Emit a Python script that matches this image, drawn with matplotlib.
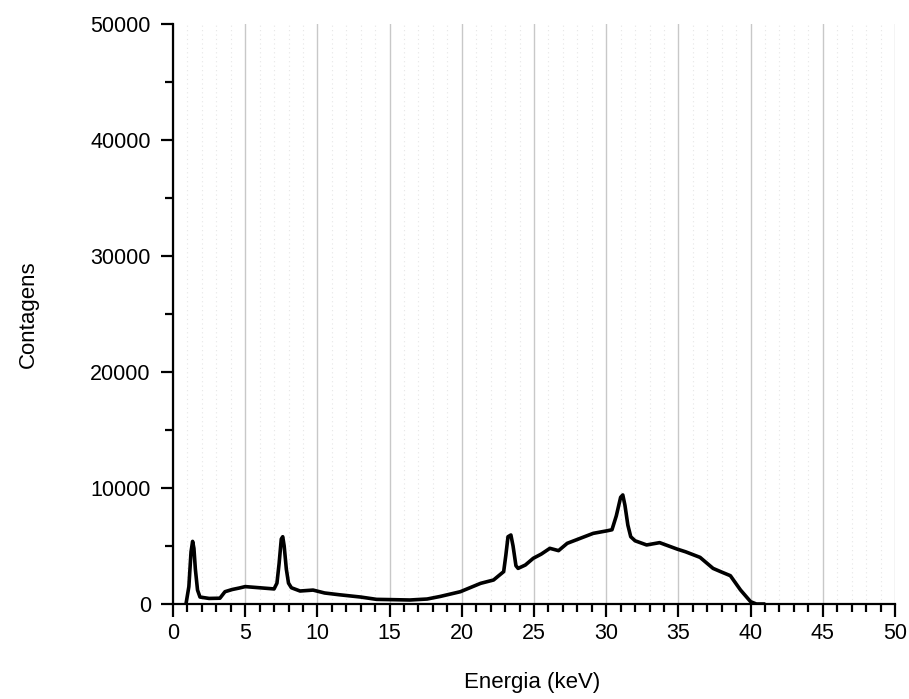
import matplotlib
matplotlib.use("Agg")
import matplotlib.pyplot as plt
import matplotlib.ticker as ticker

plt.rcParams["font.family"] = ["Liberation Sans", "DejaVu Sans"]

# spectrum
energia = [0.9, 1.1, 1.25, 1.36, 1.45, 1.55, 1.7, 1.87, 2.5, 3.25, 3.6, 4.1,
           4.6, 5.0, 6.0, 7.0, 7.2, 7.35, 7.5, 7.6, 7.7, 7.85, 8.0, 8.2, 8.8,
           9.7, 10.5, 11.5, 13.0, 14.1, 15.0, 16.4, 17.6, 18.5, 19.9, 21.3,
           22.2, 22.9, 23.05, 23.2, 23.4, 23.55, 23.75, 23.9, 24.4, 24.95,
           25.5, 26.1, 26.7, 27.3, 28.2, 29.1, 30.1, 30.4, 30.7, 31.0, 31.15,
           31.3, 31.5, 31.7, 32.0, 32.8, 33.7, 34.9, 35.5, 36.5, 37.4, 38.0,
           38.6, 39.3, 40.0, 40.4, 40.9]
contagens = [0, 1500, 4500, 5400, 4800, 3000, 1200, 600, 480, 500, 1060, 1250,
             1380, 1500, 1400, 1300, 1800, 3500, 5600, 5800, 5000, 3000, 1800,
             1400, 1120, 1200, 950, 800, 600, 400, 380, 345, 430, 650, 1060,
             1780, 2070, 2790, 4200, 5800, 5950, 5000, 3300, 3070, 3360, 3940,
             4300, 4800, 4600, 5230, 5660, 6090, 6320, 6400, 7600, 9200, 9400,
             8500, 6800, 5800, 5450, 5090, 5290, 4740, 4500, 4020, 3070, 2750,
             2440, 1210, 200, 0, 0]

fig = plt.figure(figsize=(9.09, 6.99), dpi=100)
ax = fig.add_axes([0.1903, 0.1359, 0.7943, 0.8298])

ax.plot(energia, contagens, color="black", lw=2.6, solid_joinstyle="round")

ax.set_xlim(0, 50)
ax.set_ylim(0, 50000)

ax.xaxis.set_major_locator(ticker.MultipleLocator(5))
ax.xaxis.set_minor_locator(ticker.MultipleLocator(1))
ax.yaxis.set_major_locator(ticker.MultipleLocator(10000))
ax.yaxis.set_minor_locator(ticker.MultipleLocator(5000))

ax.grid(axis="x", which="major", color="#c8c8c8", lw=1.0)
ax.grid(axis="x", which="minor", color="#e6e6e6", lw=0.8, ls=(0, (1, 3)))
ax.set_axisbelow(True)

ax.spines["top"].set_visible(False)
ax.spines["right"].set_visible(False)
ax.spines["left"].set_linewidth(1.6)
ax.spines["bottom"].set_linewidth(1.6)

ax.tick_params(axis="both", which="major", direction="out", length=9, width=1.6,
               labelsize=15.5, colors="black")
ax.tick_params(axis="both", which="minor", direction="out", length=5.5, width=1.6)
ax.tick_params(axis="x", which="major", pad=5)
ax.tick_params(axis="y", which="major", pad=7)

fig.text(0.585, 0.024, "Energia (keV)", ha="center", va="center", fontsize=16)
fig.text(0.031, 0.551, "Contagens", ha="center", va="center", rotation=90, fontsize=16)

fig.savefig("out.png", dpi=100)
